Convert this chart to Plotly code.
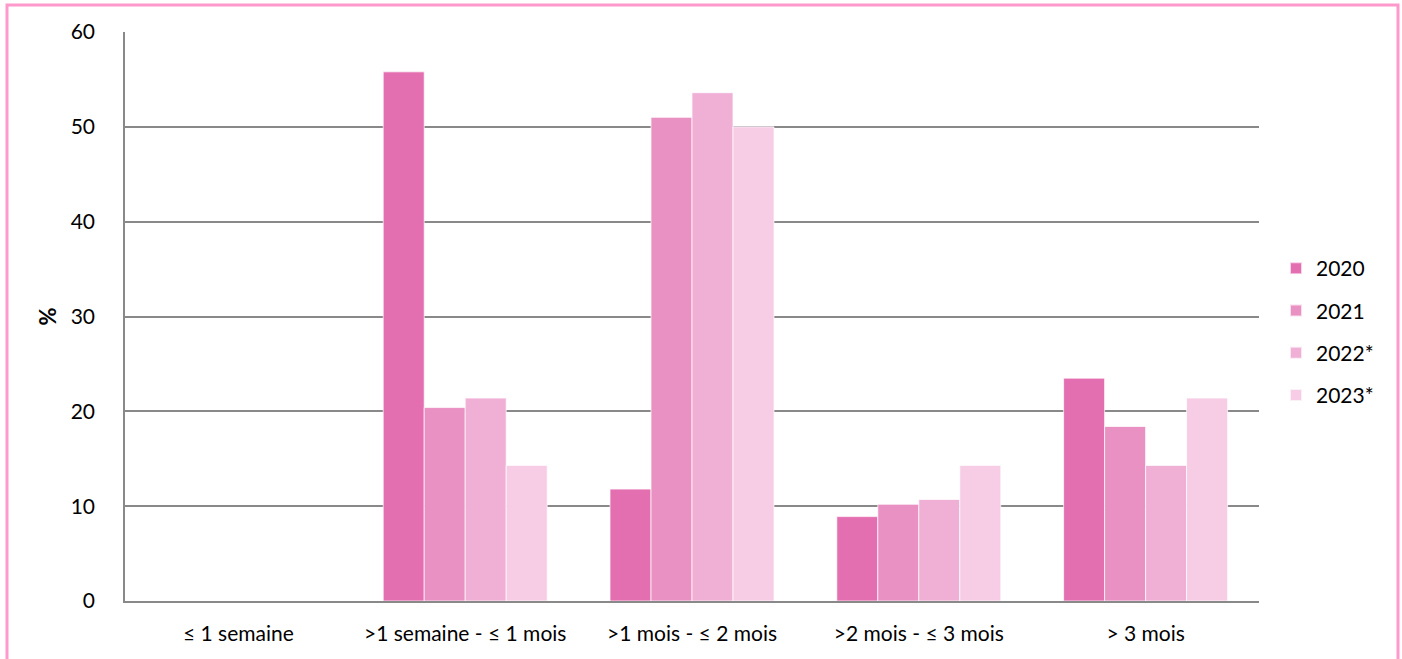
import plotly.graph_objects as go

categories = ["≤ 1 semaine", ">1 semaine - ≤ 1 mois", ">1 mois - ≤ 2 mois", ">2 mois - ≤ 3 mois", "> 3 mois"]
years = ["2020", "2021", "2022*", "2023*"]
v2020 = [0, 55.8, 11.8, 8.9, 23.5]
v2021 = [0, 20.4, 51.0, 10.2, 18.4]
v2022 = [0, 21.4, 53.6, 10.7, 14.3]
v2023 = [0, 14.3, 50.0, 14.3, 21.4]
colors = ["#E46FB0", "#EA91C3", "#F0B0D6", "#F6CDE5"]

W, H = 1402, 659
L, R, T, B = 125, 143, 32, 58

fig = go.Figure()
for name, vals, col in zip(years, [v2020, v2021, v2022, v2023], colors):
    fig.add_trace(go.Bar(
        x=categories, y=vals, name=name, legendgroup=name,
        marker=dict(color=col, line=dict(color="rgba(255,255,255,0.7)", width=1)),
    ))

pw, ph = W - L - R, H - T - B
def px(x):
    return (x - L) / pw
def py(y):
    return (H - B - y) / ph

fig.add_shape(type="rect", xref="paper", yref="paper",
              x0=px(7), x1=px(1398), y0=py(668), y1=py(5),
              line=dict(color="#FF99CC", width=3), fillcolor="rgba(0,0,0,0)", layer="above")

font = "Lato, Liberation Sans, Arial, sans-serif"
fig.update_layout(
    width=W, height=H,
    margin=dict(l=L, r=R, t=T, b=B),
    paper_bgcolor="white", plot_bgcolor="white",
    barmode="group", bargap=0.277, bargroupgap=0,
    font=dict(family=font, size=21, color="#000000"),
    xaxis=dict(showgrid=False, showline=True, linecolor="#898989", linewidth=1.5,
               ticks="", tickfont=dict(size=21), ticklabelstandoff=13),
    yaxis=dict(range=[0, 60], dtick=10, showgrid=True, gridcolor="#898989", gridwidth=1.5,
               showline=True, linecolor="#898989", linewidth=1.5, ticks="",
               ticklabelstandoff=24, tickfont=dict(size=21), zeroline=False,
               title=dict(text="<b>%</b>", font=dict(size=22), standoff=8)),
    legend=dict(x=px(1276), y=py(248), xanchor="left", yanchor="top",
                font=dict(size=21), tracegroupgap=12, itemsizing="constant",
                bgcolor="rgba(0,0,0,0)"),
    showlegend=True,
)

fig.write_html("out.html")
